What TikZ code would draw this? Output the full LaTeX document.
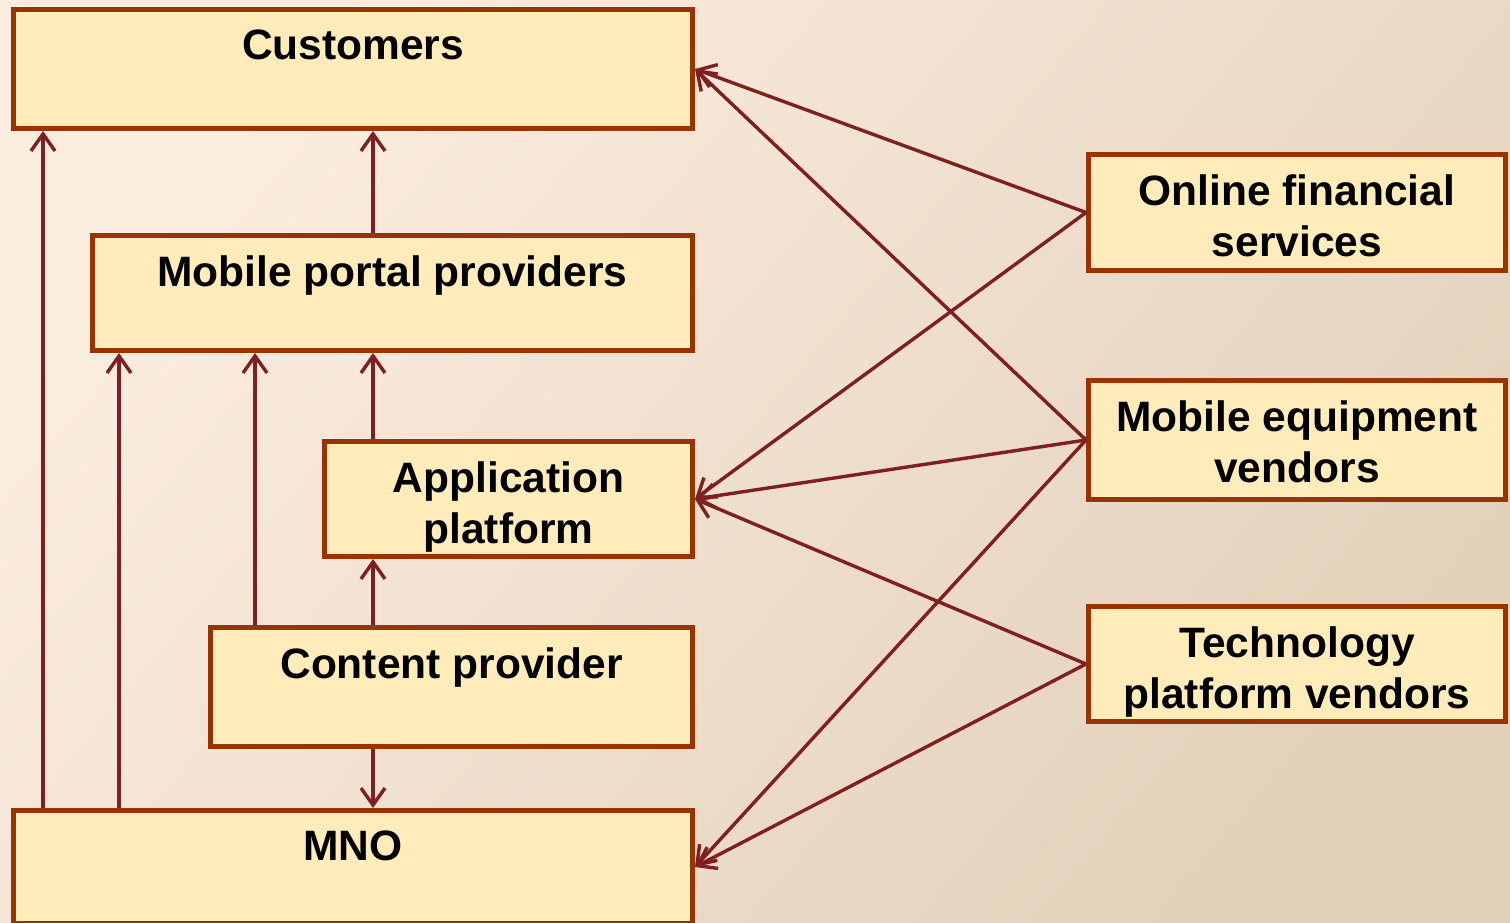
\documentclass[tikz,border=0pt]{standalone}
\usepackage{fontspec}
\setmainfont{Liberation Sans}
\usetikzlibrary{arrows.meta}
\definecolor{bgtl}{HTML}{FBEDE0}
\definecolor{bgbr}{HTML}{E3D1BB}
\definecolor{boxfill}{HTML}{FFECBA}
\definecolor{boxline}{HTML}{993300}
\definecolor{arrowred}{HTML}{7F1F1F}

\begin{document}
\begin{tikzpicture}[x=1pt,y=-1pt,
  box/.style={draw=boxline, fill=boxfill, line width=5pt, inner sep=0pt, anchor=north west},
  lbl/.style={font=\fontsize{42.5}{51}\selectfont\bfseries, align=center, inner sep=0pt, anchor=north},
  arr/.style={draw=arrowred, line width=3.4pt, -{Straight Barb[length=17pt,width=24pt,line width=3.4pt]}}]

% page frame and background
\clip (0,0) rectangle (1510,923);
\shade[shading=axis, top color=bgtl, bottom color=bgbr, shading angle=50] (0,0) rectangle (1510,923);

% value chain boxes (left column)
\node[box, minimum width=679pt, minimum height=119pt] (cust) at (11,7) {};
\node[box, minimum width=600pt, minimum height=115pt] (mpp)  at (90,233) {};
\node[box, minimum width=368pt, minimum height=115pt] (app)  at (322,439) {};
\node[box, minimum width=482pt, minimum height=119pt] (cont) at (208,625) {};
\node[box, minimum width=679pt, minimum height=113pt] (mno)  at (11,808) {};

% supplier boxes (right column)
\node[box, minimum width=417pt, minimum height=116pt] (ofs) at (1086,152) {};
\node[box, minimum width=417pt, minimum height=119pt] (mev) at (1086,378) {};
\node[box, minimum width=417pt, minimum height=115pt] (tpv) at (1086,604) {};

% labels
\node[lbl] (custT) at ([yshift=-22.5pt]cust.north) {Customers};
\node[lbl] (mppT)  at ([yshift=-22.5pt]mpp.north)  {Mobile portal providers};
\node[lbl] (appT)  at ([yshift=-22.5pt]app.north)  {Application\\platform};
\node[lbl] (contT) at ([yshift=-22.5pt]cont.north) {Content provider};
\node[lbl] (mnoT)  at ([yshift=-22.5pt]mno.north)  {MNO};
\node[lbl] (ofsT)  at ([yshift=-22.5pt]ofs.north)  {Online financial\\services};
\node[lbl] (mevT)  at ([yshift=-22.5pt]mev.north)  {Mobile equipment\\vendors};
\node[lbl] (tpvT)  at ([yshift=-22.5pt]tpv.north)  {Technology\\platform vendors};

% columns of the vertical links
\coordinate (colA) at (43,0);
\coordinate (colB) at (119,0);
\coordinate (colC) at (255,0);
\coordinate (colD) at (373,0);

% vertical links
\draw[arr] (mno.north -| colA) -- (cust.south -| colA);
\draw[arr] (mno.north -| colB) -- (mpp.south -| colB);
\draw[arr] (mpp.north -| colD) -- (cust.south -| colD);
\draw[arr] (cont.north -| colC) -- (mpp.south -| colC);
\draw[arr] (app.north -| colD) -- (mpp.south -| colD);
\draw[arr] (cont.north -| colD) -- (app.south -| colD);
\draw[arr] (cont.south -| colD) -- (mno.north -| colD);

% supplier links
\draw[arr] (ofs.west) -- (cust.east);
\draw[arr] (ofs.west) -- (app.east);
\draw[arr] (mev.west) -- (cust.east);
\draw[arr] (mev.west) -- (app.east);
\draw[arr] (mev.west) -- (mno.east);
\draw[arr] (tpv.west) -- (app.east);
\draw[arr] (tpv.west) -- (mno.east);
\end{tikzpicture}
\end{document}
